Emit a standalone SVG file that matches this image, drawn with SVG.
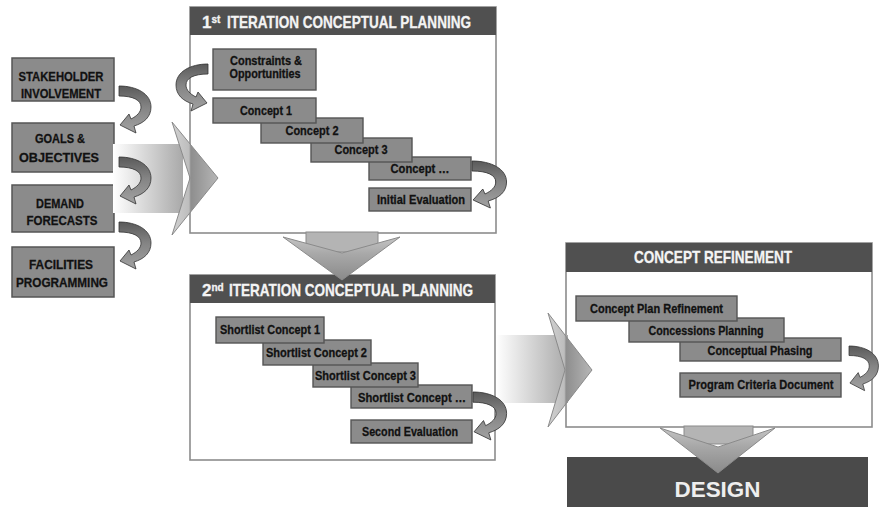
<svg xmlns="http://www.w3.org/2000/svg" width="879" height="507" viewBox="0 0 879 507">
<style>
.bg{fill:#ffffff}
.lb{fill:#8b8b8b;stroke:#555;stroke-width:1.5}
.sb{fill:#8b8b8b;stroke:#555;stroke-width:1.4}
.frame{fill:#fff;stroke:#8c8c8c;stroke-width:1.6}
.hdr{fill:#505050}
.t{font-family:"Liberation Sans Narrow","Arial Narrow","Liberation Sans",Arial,sans-serif;font-weight:bold;font-size:13.5px;fill:#111;stroke:#111;stroke-width:0.3;text-anchor:middle}
.t2{font-size:12.5px}
.ht{font-family:"Liberation Sans Narrow","Arial Narrow","Liberation Sans",Arial,sans-serif;font-weight:bold;font-size:17px;fill:#f4f4f4;stroke:#f4f4f4;stroke-width:0.3}
.sup{font-size:10px}
.curl{fill:url(#cg);stroke:#333;stroke-width:0.8}
.hrect{fill:url(#hg)}
.hhead{fill:url(#headg);stroke:#8a8a8a;stroke-width:1}
.vrect{fill:#b4b4b4;stroke:#8a8a8a;stroke-width:1}
.vhead{fill:url(#vg);stroke:#8a8a8a;stroke-width:1}
</style>
<defs>
<linearGradient id="cg" x1="0" y1="0" x2="0" y2="1">
<stop offset="0" stop-color="#5a5a5a"/>
<stop offset="0.45" stop-color="#848484"/>
<stop offset="1" stop-color="#a2a2a2"/>
</linearGradient>
<linearGradient id="hg" x1="0" y1="0" x2="1" y2="0">
<stop offset="0" stop-color="#ffffff"/>
<stop offset="1" stop-color="#a9a9a9"/>
</linearGradient>
<linearGradient id="headg" x1="0" y1="0" x2="1" y2="0">
<stop offset="0" stop-color="#d2d2d2"/>
<stop offset="0.37" stop-color="#bdbdbd"/>
<stop offset="0.41" stop-color="#8e8e8e"/>
<stop offset="1" stop-color="#b6b6b6"/>
</linearGradient>
<linearGradient id="vg" x1="0" y1="0" x2="0" y2="1">
<stop offset="0" stop-color="#c4c4c4"/>
<stop offset="0.4" stop-color="#a8a8a8"/>
<stop offset="1" stop-color="#8a8a8a"/>
</linearGradient>
<path id="curl" d="M0,0 C18,0 32,8 32,21 C32,31 25,37 15,40 L17,47 L1,39 L10,28 L12,33 C18,30 22,26 22,21 C22,14 14,10 0,10 Z"/>
</defs>
<rect class="bg" x="0" y="0" width="879" height="507"/>

<g id="stakeholder">
<rect class="lb" x="12" y="58" width="102" height="43"/>
<text class="t" x="61" y="81" textLength="85" lengthAdjust="spacingAndGlyphs">STAKEHOLDER</text>
<text class="t" x="61" y="98" textLength="80" lengthAdjust="spacingAndGlyphs">INVOLVEMENT</text>
</g>
<g id="goals">
<rect class="lb" x="12" y="123" width="102" height="49"/>
<text class="t" x="60" y="143" textLength="50" lengthAdjust="spacingAndGlyphs">GOALS &amp;</text>
<text class="t" x="59" y="162" textLength="80" lengthAdjust="spacingAndGlyphs">OBJECTIVES</text>
</g>
<g id="demand">
<rect class="lb" x="12" y="185" width="102" height="47"/>
<text class="t" x="60" y="208" textLength="48" lengthAdjust="spacingAndGlyphs">DEMAND</text>
<text class="t" x="62" y="225" textLength="71" lengthAdjust="spacingAndGlyphs">FORECASTS</text>
</g>
<g id="facilities">
<rect class="lb" x="12" y="247" width="102" height="50"/>
<text class="t" x="61" y="269" textLength="64" lengthAdjust="spacingAndGlyphs">FACILITIES</text>
<text class="t" x="62" y="287" textLength="92" lengthAdjust="spacingAndGlyphs">PROGRAMMING</text>
</g>

<g id="iteration1">
<rect class="frame" x="190" y="7" width="306" height="226"/>
<rect class="hdr" x="190" y="7" width="306" height="28"/>
<text class="ht" x="202" y="28">1<tspan class="sup" dy="-5">st</tspan><tspan dy="5" x="227" textLength="244" lengthAdjust="spacingAndGlyphs">ITERATION CONCEPTUAL PLANNING</tspan></text>
</g>
<g id="constraints">
<rect class="sb" x="213" y="49" width="103" height="41"/>
<text class="t t2" x="266" y="65" textLength="72" lengthAdjust="spacingAndGlyphs">Constraints &amp;</text>
<text class="t t2" x="265" y="78" textLength="71" lengthAdjust="spacingAndGlyphs">Opportunities</text>
</g>
<g id="initial-eval">
<rect class="sb" x="369" y="188" width="102" height="23"/>
<text class="t" x="421" y="204" textLength="88" lengthAdjust="spacingAndGlyphs">Initial Evaluation</text>
</g>
<g id="concept-n">
<rect class="sb" x="369" y="157" width="102" height="23"/>
<text class="t" x="420" y="173" textLength="59" lengthAdjust="spacingAndGlyphs">Concept …</text>
</g>
<g id="concept3">
<rect class="sb" x="311" y="138" width="101" height="24"/>
<text class="t" x="361" y="154" textLength="53" lengthAdjust="spacingAndGlyphs">Concept 3</text>
</g>
<g id="concept2">
<rect class="sb" x="261" y="118" width="102" height="25"/>
<text class="t" x="312" y="135" textLength="53" lengthAdjust="spacingAndGlyphs">Concept 2</text>
</g>
<g id="concept1">
<rect class="sb" x="213" y="98" width="103" height="25"/>
<text class="t" x="266" y="115" textLength="52" lengthAdjust="spacingAndGlyphs">Concept 1</text>
</g>

<g id="iteration2">
<rect class="frame" x="190" y="275" width="305" height="185"/>
<rect class="hdr" x="190" y="275" width="305" height="28"/>
<text class="ht" x="202" y="296">2<tspan class="sup" dy="-5">nd</tspan><tspan dy="5" x="229" textLength="244" lengthAdjust="spacingAndGlyphs">ITERATION CONCEPTUAL PLANNING</tspan></text>
</g>
<g id="second-eval">
<rect class="sb" x="351" y="420" width="121" height="23"/>
<text class="t" x="410" y="436" textLength="96" lengthAdjust="spacingAndGlyphs">Second Evaluation</text>
</g>
<g id="shortlist-n">
<rect class="sb" x="351" y="385" width="121" height="23"/>
<text class="t" x="412" y="402" textLength="108" lengthAdjust="spacingAndGlyphs">Shortlist Concept …</text>
</g>
<g id="shortlist3">
<rect class="sb" x="313" y="363" width="105" height="24"/>
<text class="t" x="365.5" y="380" textLength="101" lengthAdjust="spacingAndGlyphs">Shortlist Concept 3</text>
</g>
<g id="shortlist2">
<rect class="sb" x="263" y="340" width="108" height="25"/>
<text class="t" x="316.5" y="357" textLength="101" lengthAdjust="spacingAndGlyphs">Shortlist Concept 2</text>
</g>
<g id="shortlist1">
<rect class="sb" x="216" y="317" width="108" height="26"/>
<text class="t" x="270" y="334" textLength="100" lengthAdjust="spacingAndGlyphs">Shortlist Concept 1</text>
</g>

<g id="refinement">
<rect class="frame" x="566" y="243" width="306" height="184"/>
<rect class="hdr" x="566" y="243" width="306" height="29"/>
<text class="ht" x="713" y="263" text-anchor="middle" textLength="158" lengthAdjust="spacingAndGlyphs">CONCEPT REFINEMENT</text>
</g>
<g id="program-criteria">
<rect class="sb" x="680" y="373" width="161" height="24"/>
<text class="t" x="761" y="389" textLength="145" lengthAdjust="spacingAndGlyphs">Program Criteria Document</text>
</g>
<g id="phasing">
<rect class="sb" x="680" y="338" width="161" height="23"/>
<text class="t" x="760" y="355" textLength="105" lengthAdjust="spacingAndGlyphs">Conceptual Phasing</text>
</g>
<g id="concessions">
<rect class="sb" x="629" y="318" width="155" height="24"/>
<text class="t" x="706" y="335" textLength="115" lengthAdjust="spacingAndGlyphs">Concessions Planning</text>
</g>
<g id="plan-refinement">
<rect class="sb" x="576" y="296" width="161" height="25"/>
<text class="t" x="656.5" y="313" textLength="133" lengthAdjust="spacingAndGlyphs">Concept Plan Refinement</text>
</g>

<g id="design">
<rect x="567" y="457" width="301" height="50" fill="#4a4a4a"/>
<text x="717.5" y="497" text-anchor="middle" font-family="'Liberation Sans',Arial,sans-serif" font-weight="bold" font-size="22.5" fill="#eeeeee" textLength="86" lengthAdjust="spacingAndGlyphs">DESIGN</text>
</g>

<g id="connectors">
<rect class="hrect" x="113" y="144" width="70" height="69"/>
<polygon class="hhead" points="172,122 218,178 172,235 190,178"/>
<rect class="hrect" x="496" y="335" width="72" height="68"/>
<polygon class="hhead" points="548,313 592,370 548,427 565,370"/>
<rect class="vrect" x="306" y="232" width="72" height="20"/>
<polygon class="vhead" points="283,237 342,253 400,237 342,280"/>
<rect class="vrect" x="684" y="426" width="69" height="18"/>
<polygon class="vhead" points="660,428 718,447 775,428 718,473"/>
<use href="#curl" class="curl" transform="translate(119,86)"/>
<use href="#curl" class="curl" transform="translate(119,157)"/>
<use href="#curl" class="curl" transform="translate(119,222)"/>
<use href="#curl" class="curl" transform="translate(208,64) scale(-1,1)"/>
<use href="#curl" class="curl" transform="translate(472,161) scale(1.08,1)"/>
<use href="#curl" class="curl" transform="translate(473,392) scale(1.05,1.02)"/>
<use href="#curl" class="curl" transform="translate(849,346) scale(0.92,0.95)"/>
</g>
</svg>
